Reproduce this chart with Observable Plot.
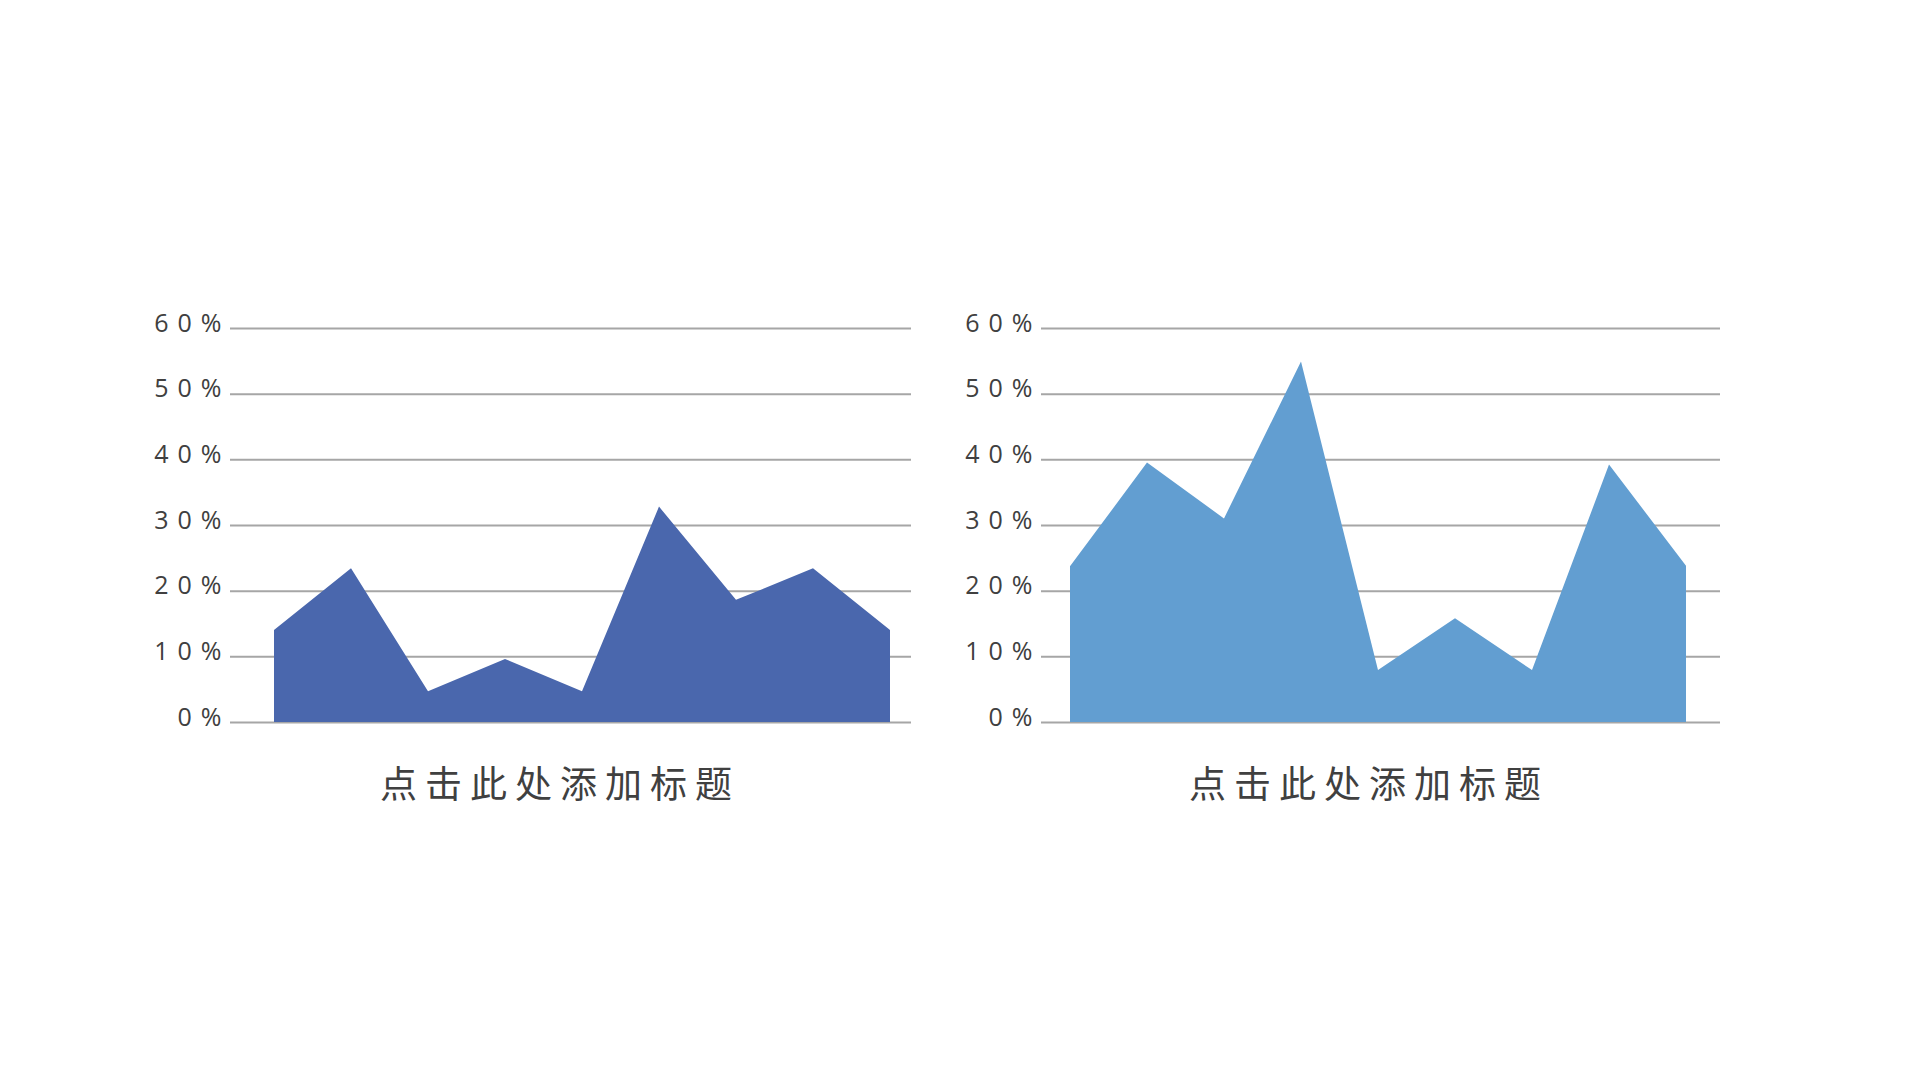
<!DOCTYPE html>
<html>
<head>
<meta charset="utf-8">
<script src="https://cdn.jsdelivr.net/npm/d3@7"></script>
<script src="https://cdn.jsdelivr.net/npm/@observablehq/plot@0.6"></script>
<style>
  html, body { margin: 0; padding: 0; background: #ffffff; }
  body { width: 1920px; height: 1080px; position: relative; overflow: hidden; }
  .chart { position: absolute; }
  .chart svg text { letter-spacing: 9px; }
  .title {
    position: absolute;
    font-family: "Noto Sans CJK SC", "Noto Sans", sans-serif;
    font-size: 37px;
    line-height: 37px;
    height: 37px;
    letter-spacing: 8px;
    color: #404040;
    white-space: nowrap;
    text-align: center;
    width: 500px;
  }
</style>
</head>
<body>
<div id="left" class="chart" style="left:100px; top:300px;"></div>
<div id="right" class="chart" style="left:910px; top:300px;"></div>
<div class="title" style="left:310px; top:764px;">点击此处添加标题</div>
<div class="title" style="left:1119px; top:764px;">点击此处添加标题</div>
<script>
// Data
const categories = [1, 2, 3, 4, 5, 6, 7, 8, 9];
const seriesLeft = [0.14, 0.234, 0.047, 0.096, 0.047, 0.328, 0.186, 0.234, 0.14];
const seriesRight = [0.237, 0.395, 0.31, 0.549, 0.079, 0.158, 0.079, 0.392, 0.238];
const yTicks = [0, 0.1, 0.2, 0.3, 0.4, 0.5, 0.6];
const yTickLabels = ["0%", "10%", "20%", "30%", "40%", "50%", "60%"];
const chartTitle = "点击此处添加标题";

function makeChart(values, color, opts) {
  const data = categories.map((c, i) => ({cat: c, value: values[i]}));
  return Plot.plot({
    width: 840,
    height: 440,
    marginTop: 28,
    marginBottom: 18,
    marginLeft: opts.marginLeft,
    marginRight: opts.marginRight,
    style: {background: "transparent", fontFamily: "'Open Sans', 'Noto Sans', sans-serif", overflow: "visible"},
    x: {type: "linear", domain: [1, 9], insetLeft: opts.insetLeft, insetRight: opts.insetRight, axis: null},
    y: {domain: [0, 0.6], axis: null},
    marks: [
      Plot.ruleY(yTicks, {stroke: "#a6a6a6", strokeWidth: 2}),
      Plot.areaY(data, {x: "cat", y: "value", fill: color, curve: "linear"}),
      Plot.axisY({
        ticks: yTicks,
        tickSize: 0,
        tickPadding: 0,
        label: null,
        tickFormat: (d) => yTickLabels[yTicks.indexOf(d)],
        fontSize: 25,
        fill: "#404040",
        dy: -5
      })
    ]
  });
}

const left = makeChart(seriesLeft, "#4a67ad", {marginLeft: 130, marginRight: 29, insetLeft: 44, insetRight: 21});
const right = makeChart(seriesRight, "#629ed1", {marginLeft: 131, marginRight: 30, insetLeft: 29, insetRight: 34});
document.getElementById("left").appendChild(left);
document.getElementById("right").appendChild(right);
document.querySelectorAll(".title").forEach(el => el.textContent = chartTitle);
</script>
</body>
</html>
